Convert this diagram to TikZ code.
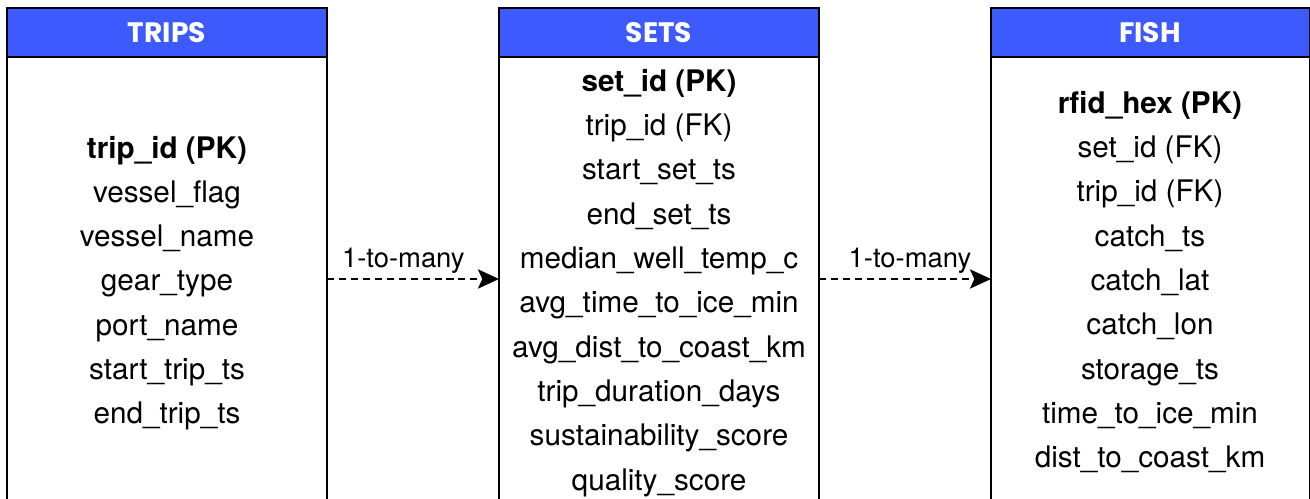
\documentclass[tikz,border=0pt]{standalone}
\usepackage{fontspec}
\setmainfont{TeX Gyre Heros}
\newfontfamily\headfont{Poppins}
\usepackage{xcolor}
\usepackage{tikz}
\usetikzlibrary{arrows.meta}

\definecolor{headblue}{RGB}{61,90,254}

\begin{document}
\begin{tikzpicture}[x=0.02cm, y=-0.02cm,
                    line width=1.1pt,
                    tblhead/.style={draw, fill=headblue},
                    tblbody/.style={draw, fill=white},
                    headtext/.style={text=white, inner sep=0pt,
                        font=\headfont\bfseries\fontsize{16}{18}\selectfont},
                    field/.style={inner sep=0pt, text height=0.72em, text depth=0.22em,
                        font=\fontsize{16.9}{20}\selectfont},
                    key/.style={field, font=\bfseries\fontsize{16.9}{20}\selectfont},
                    rel/.style={dashed, dash pattern=on 4pt off 2.8pt,
                        -{Stealth[length=12pt,width=11pt,inset=2.5pt]}},
                    rellabel/.style={inner sep=0pt, font=\fontsize{15.6}{18}\selectfont}]
    \useasboundingbox (0,0) rectangle (1310,499);
    \clip (0,0) rectangle (1310,499);

    % table frames
    \draw[tblbody] (7,57) rectangle (327,520);
    \draw[tblbody] (499,57) rectangle (819,520);
    \draw[tblbody] (991,57) rectangle (1310,520);
    \draw[tblhead] (7,8) rectangle (327,57);
    \draw[tblhead] (499,8) rectangle (819,57);
    \draw[tblhead] (991,8) rectangle (1310,57);
    \node[headtext] (trips-head) at (167,33) {TRIPS};
    \node[headtext] (sets-head) at (659,33) {SETS};
    \node[headtext] (fish-head) at (1150,33) {FISH};

    % TRIPS
    \node[key] (trips-1) at (167,154) {trip\_id (PK)};
    \foreach \txt [count=\i from 2] in {vessel\_flag, vessel\_name, gear\_type,
            port\_name, start\_trip\_ts, end\_trip\_ts}
        \node[field] (trips-\i) at (167,154+44.2*\i-44.2) {\txt};

    % SETS
    \node[key] (sets-1) at (659,87) {set\_id (PK)};
    \foreach \txt [count=\i from 2] in {trip\_id (FK), start\_set\_ts, end\_set\_ts,
            median\_well\_temp\_c, avg\_time\_to\_ice\_min, avg\_dist\_to\_coast\_km,
            trip\_duration\_days, sustainability\_score, quality\_score}
        \node[field] (sets-\i) at (659,87+44.3*\i-44.3) {\txt};

    % FISH
    \node[key] (fish-1) at (1150,109) {rfid\_hex (PK)};
    \foreach \txt [count=\i from 2] in {set\_id (FK), trip\_id (FK), catch\_ts,
            catch\_lat, catch\_lon, storage\_ts, time\_to\_ice\_min, dist\_to\_coast\_km}
        \node[field] (fish-\i) at (1150,109+44.3*\i-44.3) {\txt};

    % relations
    \coordinate (trips-out) at (327,279);
    \coordinate (sets-in) at (499,279);
    \coordinate (sets-out) at (819,279);
    \coordinate (fish-in) at (991,279);
    \draw[rel] (trips-out) -- node[rellabel, above=2.8pt, xshift=-5.5pt] (rel-1) {1-to-many} (sets-in);
    \draw[rel] (sets-out) -- node[rellabel, above=2.8pt, xshift=2.8pt] (rel-2) {1-to-many} (fish-in);
\end{tikzpicture}
\end{document}
